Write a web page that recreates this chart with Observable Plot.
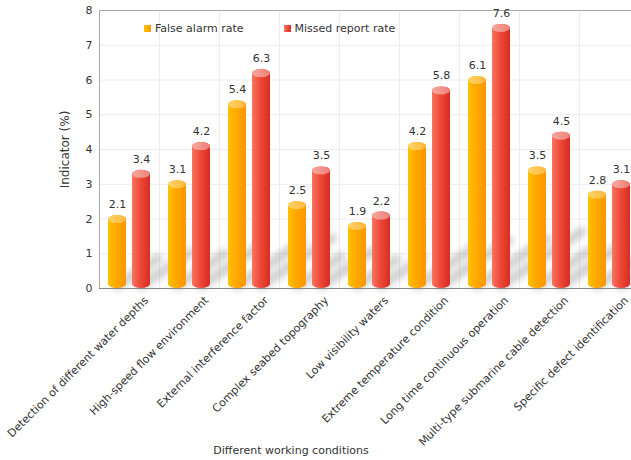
<!DOCTYPE html>
<html><head><meta charset="utf-8">
<script src="https://cdn.jsdelivr.net/npm/d3@7"></script>
<script src="https://cdn.jsdelivr.net/npm/@observablehq/plot@0.6"></script>
<style>
body{margin:0;background:#fff;font-family:"DejaVu Sans",Verdana,sans-serif;}
#wrap{position:relative;width:631px;height:460px;overflow:hidden;}
#legend{position:absolute;top:22px;left:144px;font-size:11px;color:#333;display:flex;white-space:nowrap;}
#legend .item{display:flex;align-items:center;margin-right:40px;}
#legend .sw{width:7px;height:7px;margin-right:4px;}
#xtitle{position:absolute;top:444px;left:291px;transform:translateX(-50%);font-size:11px;color:#333;white-space:nowrap;}
</style></head>
<body><div id="wrap"><div id="chart"></div><div id="legend"></div><div id="xtitle"></div></div>
<script>
const categories = ["Detection of different water depths","High-speed flow environment","External interference factor","Complex seabed topography","Low visibility waters","Extreme temperature condition","Long time continuous operation","Multi-type submarine cable detection","Specific defect identification"];
const falseAlarm = [2.1,3.1,5.4,2.5,1.9,4.2,6.1,3.5,2.8];
const missedReport = [3.4,4.2,6.3,3.5,2.2,5.8,7.6,4.5,3.1];
const seriesNames = ["False alarm rate","Missed report rate"];
const yTicks = [0,1,2,3,4,5,6,7,8];
const xTitle = "Different working conditions";
const yTitle = "Indicator (%)";

const rowsF = categories.map((c,i)=>({cat:c, series:seriesNames[0], value:falseAlarm[i]}));
const rowsM = categories.map((c,i)=>({cat:c, series:seriesNames[1], value:missedReport[i]}));

const xRange = [99, 639];
const bw = (xRange[1]-xRange[0])/categories.length;
const shadowColor = "#9a9a9b";
const lineShape = {draw(context, l) { context.moveTo(0, 0); context.lineTo(0, -l); }};
const shadowStyle = {length: "value", rotate: 56, anchor: "start", shape: lineShape, stroke: shadowColor, strokeWidth: 10, strokeOpacity: 0.45};

const svg = Plot.plot({
  width: 631, height: 460,
  marginLeft: 99, marginTop: 10, marginBottom: 172, marginRight: 0,
  style: {fontFamily: "DejaVu Sans, Verdana, sans-serif", fontSize: "11px", color: "#333", background: "#fff"},
  x: {type: "band", domain: categories, range: xRange, padding: 0},
  y: {domain: [0, 8]},
  length: {type: "linear", domain: [0, 8], range: [30, 100]},
  marks: [
    Plot.gridY(yTicks, {stroke: "#ececec", strokeOpacity: 1}),
    Plot.ruleX(categories, {x: d => d, dx: -bw/2, stroke: "#ececec"}),
    Plot.vector(rowsF, {x: "cat", y: () => 0, dx: -12, dy: -3, ...shadowStyle}),
    Plot.vector(rowsM, {x: "cat", y: () => 0, dx: 12, dy: -3, ...shadowStyle}),
    Plot.frame({stroke: "#aaa"}),
    Plot.barY(rowsF, {x: "cat", y: "value", fill: "url(#gO)", insetLeft: 9, insetRight: 33, rx: 9, ry: 4}),
    Plot.barY(rowsF, {x: "cat", y1: "value", y2: "value", insetBottom: -8, fill: "url(#cO)", insetLeft: 9, insetRight: 33, rx: 9, ry: 4}),
    Plot.barY(rowsM, {x: "cat", y: "value", fill: "url(#gM)", insetLeft: 33, insetRight: 9, rx: 9, ry: 4}),
    Plot.barY(rowsM, {x: "cat", y1: "value", y2: "value", insetBottom: -8, fill: "url(#cM)", insetLeft: 33, insetRight: 9, rx: 9, ry: 4}),
    Plot.text(rowsF, {x: "cat", y: "value", text: d => d.value.toFixed(1), dx: -12, dy: -11, fontSize: 11, fill: "#333"}),
    Plot.text(rowsM, {x: "cat", y: "value", text: d => d.value.toFixed(1), dx: 12, dy: -11, fontSize: 11, fill: "#333"}),
    Plot.ruleY([0], {stroke: "#888"}),
    Plot.axisY(yTicks, {tickSize: 0, tickPadding: 7, fontSize: 11, fill: "#333", label: null}),
    Plot.axisY([], {tickSize: 0, fontSize: 12, fill: "#333", label: yTitle, labelAnchor: "center", labelOffset: 39, labelArrow: "none"}),
    Plot.axisX({tickRotate: -45, tickSize: 0, tickPadding: 10, dx: 17, fontSize: 11, fill: "#333", label: null})
  ]
});

const defs = d3.select(svg).insert("defs", ":first-child");
function grad(id, stops) {
  const g = defs.append("linearGradient").attr("id", id).attr("x1", 0).attr("x2", 1).attr("y1", 0).attr("y2", 0);
  stops.forEach(([o, c]) => g.append("stop").attr("offset", o).attr("stop-color", c));
}
grad("gO", [[0, "#FFC200"], [0.45, "#FFA800"], [1, "#FF9600"]]);
grad("cO", [[0, "#FFD46A"], [1, "#FFB83C"]]);
grad("gM", [[0, "#F87562"], [0.45, "#EE4A3A"], [1, "#D82C22"]]);
grad("cM", [[0, "#F8A8A0"], [1, "#EE8076"]]);
defs.append("filter").attr("id", "blur").attr("filterUnits", "userSpaceOnUse")
  .attr("x", 0).attr("y", 0).attr("width", 631).attr("height", 460)
  .append("feGaussianBlur").attr("stdDeviation", 3);
d3.select(svg).selectAll("g").filter(function() {
  const s = this.getAttribute("stroke");
  return s && s.toLowerCase() === shadowColor;
}).attr("filter", "url(#blur)");

document.getElementById("chart").appendChild(svg);

const legendColors = ["linear-gradient(90deg,#FFC200,#FF9600)", "linear-gradient(90deg,#F87562,#D82C22)"];
const leg = d3.select("#legend");
seriesNames.forEach((n, i) => {
  const it = leg.append("div").attr("class", "item");
  it.append("div").attr("class", "sw").style("background", legendColors[i]);
  it.append("span").text(n);
});
d3.select("#xtitle").text(xTitle);
</script></body></html>
